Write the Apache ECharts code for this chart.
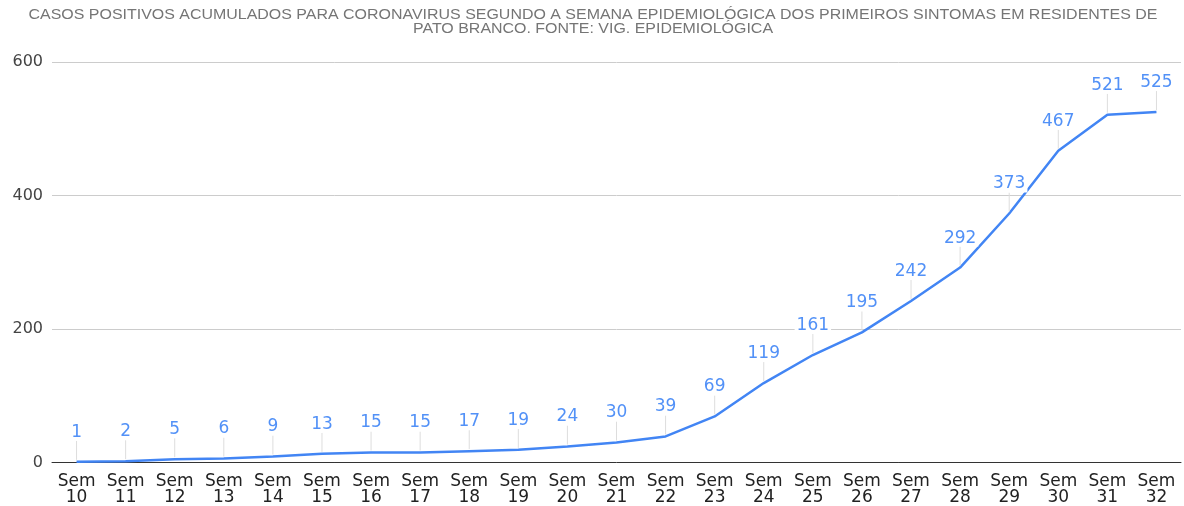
<!DOCTYPE html>
<html>
<head>
<meta charset="utf-8">
<script src="https://cdn.jsdelivr.net/npm/echarts@6/dist/echarts.min.js"></script>
<style>
  html, body { margin: 0; padding: 0; background: #fff; }
  #chart { width: 1184px; height: 506px; }
</style>
</head>
<body>
<div id="chart"></div>
<script>
// semanas epidemiológicas
var semanas = ['10', '11', '12', '13', '14', '15', '16', '17', '18', '19', '20', '21',
  '22', '23', '24', '25', '26', '27', '28', '29', '30', '31', '32'];
// casos acumulados
var casos = [1, 2, 5, 6, 9, 13, 15, 15, 17, 19, 24, 30, 39, 69, 119, 161, 195, 242, 292, 373, 467, 521, 525];
var yTicks = [0, 200, 400, 600];

var titulo = 'CASOS POSITIVOS ACUMULADOS PARA CORONAVIRUS SEGUNDO A SEMANA EPIDEMIOLÓGICA DOS PRIMEIROS SINTOMAS EM RESIDENTES DE\nPATO BRANCO. FONTE: VIG. EPIDEMIOLÓGICA';

var categorias = semanas.map(function (s) { return 'Sem\n' + s; });

var fonte = 'DejaVu Sans, Arial, sans-serif';

var myChart = echarts.init(document.getElementById('chart'));

var option = {
  animation: false,
  // título um pouco esticado na horizontal, como no original
  graphic: {
    elements: [
      {
        type: 'text',
        x: 593,
        y: 8,
        scaleX: 1.14,
        style: {
          text: titulo,
          font: '14px Liberation Sans, Arial, sans-serif',
          fill: '#757575',
          align: 'center',
          verticalAlign: 'top',
          lineHeight: 14
        }
      }
    ]
  },
  grid: { left: 52, right: 3, top: 62, bottom: 43 },
  xAxis: {
    type: 'category',
    data: categorias,
    axisTick: { show: false },
    axisLine: { lineStyle: { color: '#333', width: 1 } },
    axisLabel: {
      interval: 0,
      margin: 11,
      color: '#222',
      fontFamily: fonte,
      fontSize: 17,
      lineHeight: 16
    }
  },
  yAxis: {
    type: 'value',
    min: yTicks[0],
    max: yTicks[yTicks.length - 1],
    interval: 200,
    axisLine: { show: false },
    axisTick: { show: false },
    splitLine: { lineStyle: { color: '#cccccc' } },
    axisLabel: {
      margin: 9,
      color: '#444',
      fontFamily: fonte,
      fontSize: 16
    }
  },
  series: [
    {
      name: 'casos',
      type: 'line',
      data: casos,
      symbol: 'none',
      z: 3,
      lineStyle: { color: '#4285f4', width: 2.5 }
    },
    {
      // rótulos com linha guia
      name: 'rotulos',
      type: 'custom',
      data: casos.map(function (v, i) { return [i, v]; }),
      z: 4,
      renderItem: function (params, api) {
        var p = api.coord([api.value(0), api.value(1)]);
        return {
          type: 'group',
          children: [
            {
              type: 'line',
              shape: { x1: p[0], y1: p[1] - 2, x2: p[0], y2: p[1] - 21 },
              style: { stroke: '#dddddd', lineWidth: 1 }
            },
            {
              type: 'text',
              x: p[0],
              y: p[1] - 21,
              style: {
                text: String(api.value(1)),
                fill: '#5291f7',
                font: '17px ' + fonte,
                align: 'center',
                verticalAlign: 'bottom',
                backgroundColor: '#fff',
                padding: [0, 2, 0, 2]
              }
            }
          ]
        };
      }
    }
  ]
};

myChart.setOption(option);
</script>
</body>
</html>
